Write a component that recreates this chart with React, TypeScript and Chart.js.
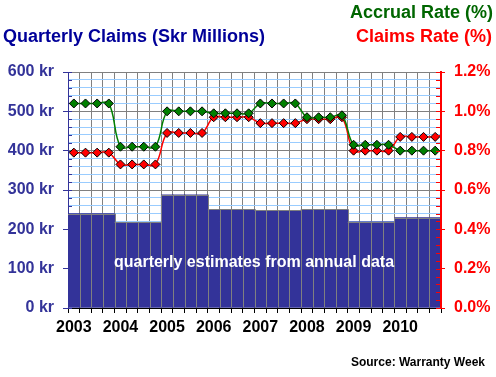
import React, { useEffect, useRef } from "react";
import { Chart, registerables } from "chart.js";

Chart.register(...registerables);

const categories = [
  "2003", "", "", "", "2004", "", "", "", "2005", "", "", "", "2006", "", "", "",
  "2007", "", "", "", "2008", "", "", "", "2009", "", "", "", "2010", "", "", "",
];

const claimsSkr = [
  240, 240, 240, 240, 218, 218, 218, 218, 288, 288, 288, 288, 251, 251, 251, 251,
  248, 248, 248, 248, 251, 251, 251, 251, 219, 219, 219, 219, 230, 230, 230, 230,
];

const accrualRate = [
  1.04, 1.04, 1.04, 1.04, 0.82, 0.82, 0.82, 0.82, 1.0, 1.0, 1.0, 1.0, 0.99, 0.99, 0.99, 0.99,
  1.04, 1.04, 1.04, 1.04, 0.97, 0.97, 0.97, 0.98, 0.83, 0.83, 0.83, 0.83, 0.8, 0.8, 0.8, 0.8,
];

const claimsRate = [
  0.79, 0.79, 0.79, 0.79, 0.73, 0.73, 0.73, 0.73, 0.89, 0.89, 0.89, 0.89, 0.97, 0.97, 0.97, 0.97,
  0.94, 0.94, 0.94, 0.94, 0.96, 0.96, 0.96, 0.97, 0.8, 0.8, 0.8, 0.8, 0.87, 0.87, 0.87, 0.87,
];

const FONT = '"Liberation Sans", Arial, sans-serif';
const BAR_INDEX = 2;

const overlayPlugin = {
  id: "overlay",
  beforeDatasetsDraw(chart: any) {
    const ctx = chart.ctx;
    const y = chart.scales.y;
    ctx.save();
    ctx.strokeStyle = "#333399";
    ctx.lineWidth = 1;
    y.ticks.forEach((t: any) => {
      const py = Math.round(y.getPixelForValue(t.value)) + 0.5;
      ctx.beginPath();
      ctx.moveTo(y.right, py);
      ctx.lineTo(y.right + 4, py);
      ctx.stroke();
    });
    ctx.restore();
  },
  afterDatasetDraw(chart: any, args: any) {
    if (args.index !== BAR_INDEX) return;
    const ctx = chart.ctx;
    const meta = chart.getDatasetMeta(BAR_INDEX);
    ctx.save();
    ctx.strokeStyle = "#808080";
    ctx.lineWidth = 1;
    meta.data.forEach((el: any, i: number) => {
      const left = el.x - el.width / 2;
      const right = el.x + el.width / 2;
      const top = Math.round(el.y) + 0.5;
      ctx.beginPath();
      ctx.moveTo(left, top);
      ctx.lineTo(right, top);
      ctx.stroke();
      if (i > 0) {
        const prev = meta.data[i - 1];
        const lx = Math.round(left) + 0.5;
        ctx.beginPath();
        ctx.moveTo(lx, Math.min(el.y, prev.y));
        ctx.lineTo(lx, el.base);
        ctx.stroke();
      }
    });
    ctx.restore();
  },
  afterDatasetsDraw(chart: any) {
    const ctx = chart.ctx;
    const y1 = chart.scales.y1;
    ctx.save();
    ctx.strokeStyle = "#ff0000";
    ctx.lineWidth = 1;
    y1.ticks.forEach((t: any) => {
      const py = Math.round(y1.getPixelForValue(t.value)) + 0.5;
      ctx.beginPath();
      ctx.moveTo(y1.left - 5, py);
      ctx.lineTo(y1.left, py);
      ctx.stroke();
    });
    ctx.restore();
  },
  afterDraw(chart: any) {
    const ctx = chart.ctx;
    ctx.save();
    ctx.textBaseline = "alphabetic";
    ctx.font = `bold 18px ${FONT}`;
    ctx.fillStyle = "#000099";
    ctx.textAlign = "left";
    ctx.fillText("Quarterly Claims (Skr Millions)", 3, 42);
    ctx.textAlign = "right";
    ctx.fillStyle = "#006600";
    ctx.fillText("Accrual Rate (%)", 493, 18);
    ctx.fillStyle = "#ff0000";
    ctx.fillText("Claims Rate (%)", 492, 42);
    ctx.font = `bold 16px ${FONT}`;
    ctx.fillStyle = "#ffffff";
    ctx.textAlign = "center";
    ctx.fillText("quarterly estimates from annual data", 254, 267);
    ctx.font = `bold 12px ${FONT}`;
    ctx.fillStyle = "#000000";
    ctx.textAlign = "right";
    ctx.fillText("Source: Warranty Week", 485, 366);
    ctx.restore();
  },
};

export default function App() {
  const ref = useRef<HTMLCanvasElement | null>(null);
  useEffect(() => {
    if (!ref.current) return;
    const chart = new Chart(ref.current, {
      type: "bar",
      data: {
        labels: categories,
        datasets: [
          {
            type: "line",
            label: "Accrual Rate (%)",
            data: accrualRate,
            yAxisID: "y1",
            borderColor: "#008000",
            backgroundColor: "#008000",
            borderWidth: 1.5,
            tension: 0.4,
            pointStyle: "rectRot",
            pointRadius: 4.5,
            pointBackgroundColor: "#008000",
            pointBorderColor: "#000000",
            pointBorderWidth: 1,
            order: 1,
          } as any,
          {
            type: "line",
            label: "Claims Rate (%)",
            data: claimsRate,
            yAxisID: "y1",
            borderColor: "#ff0000",
            backgroundColor: "#ff0000",
            borderWidth: 1.5,
            tension: 0.4,
            pointStyle: "rectRot",
            pointRadius: 4.5,
            pointBackgroundColor: "#ff0000",
            pointBorderColor: "#000000",
            pointBorderWidth: 1,
            order: 2,
          } as any,
          {
            type: "bar",
            label: "Quarterly Claims",
            data: claimsSkr,
            yAxisID: "y",
            backgroundColor: "#333399",
            borderWidth: 0,
            categoryPercentage: 1,
            barPercentage: 1,
            order: 3,
          } as any,
        ],
      },
      options: {
        responsive: false,
        animation: false,
        devicePixelRatio: 1,
        layout: { padding: { top: 72, left: 0, right: 0, bottom: 0 } },
        plugins: {
          legend: { display: false },
          tooltip: { enabled: false },
          title: { display: false },
        },
        scales: {
          x: {
            offset: true,
            grid: {
              offset: true,
              color: "#808080",
              lineWidth: 1,
              tickLength: 5,
              tickColor: "#000000",
            },
            border: { color: "#000000", width: 1 },
            ticks: {
              autoSkip: false,
              maxRotation: 0,
              minRotation: 0,
              padding: 5,
              color: "#000000",
              font: { family: FONT, size: 16, weight: "bold" },
            },
            afterFit: (s: any) => {
              s.height = 69;
            },
          },
          y: {
            position: "left",
            min: 0,
            max: 600,
            grid: {
              color: (c: any) => (c.tick && c.tick.value % 100 === 0 ? "#808080" : "#99ccff"),
              tickColor: (c: any) => (c.tick && c.tick.value % 100 === 0 ? "#333399" : "rgba(0,0,0,0)"),
              tickLength: 5,
              lineWidth: 1,
            },
            border: { color: "#333399", width: 1 },
            ticks: {
              stepSize: 20,
              maxTicksLimit: 100,
              autoSkip: false,
              padding: 9,
              color: "#333399",
              font: { family: FONT, size: 16, weight: "bold" },
              callback: (v: any) => (Number(v) % 100 === 0 ? `${v} kr` : ""),
            },
            afterFit: (s: any) => {
              s.width = 68;
            },
          },
          y1: {
            position: "right",
            min: 0,
            max: 1.2,
            grid: {
              drawOnChartArea: false,
              tickColor: (c: any) =>
                c.tick && Math.round(c.tick.value * 100) % 20 === 0 ? "#ff0000" : "rgba(0,0,0,0)",
              tickLength: 4,
            },
            border: { color: "#ff0000", width: 2, z: 1 },
            ticks: {
              stepSize: 0.04,
              maxTicksLimit: 100,
              autoSkip: false,
              padding: 9,
              color: "#ff0000",
              font: { family: FONT, size: 16, weight: "bold" },
              callback: (v: any) =>
                Math.round(Number(v) * 100) % 20 === 0 ? `${Number(v).toFixed(1)}%` : "",
            },
            afterFit: (s: any) => {
              s.width = 55;
            },
          },
        },
      } as any,
      plugins: [overlayPlugin],
    });
    return () => chart.destroy();
  }, []);
  return (
    <div style={{ position: "absolute", left: 0, top: 0, width: 496, height: 377, background: "#ffffff" }}>
      <canvas ref={ref} width={496} height={377} style={{ display: "block" }} />
    </div>
  );
}
